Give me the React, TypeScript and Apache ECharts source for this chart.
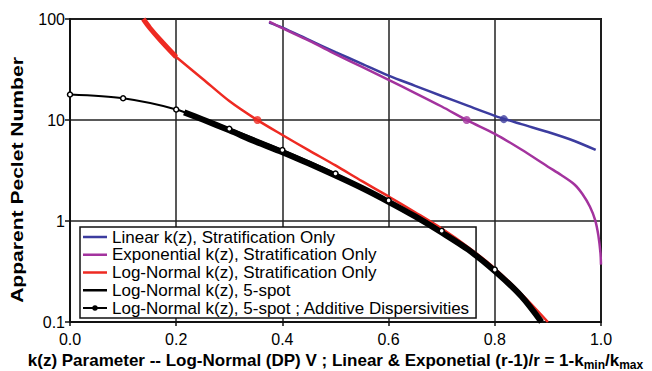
import React, { useEffect, useRef } from "react";
import * as echarts from "echarts";

const seriesNames = [
  "Linear k(z), Stratification Only",
  "Exponential k(z), Stratification Only",
  "Log-Normal k(z), Stratification Only",
  "Log-Normal k(z), 5-spot",
  "Log-Normal k(z), 5-spot ; Additive Dispersivities",
];

const linearStrat: number[][] = [
  [0.375, 92], [0.4, 82], [0.45, 62], [0.5, 47], [0.55, 36], [0.6, 27.5],
  [0.65, 21.8], [0.7, 17.3], [0.75, 13.8], [0.8, 11], [0.85, 9.1],
  [0.9, 7.6], [0.95, 6.2], [0.99, 5.05],
];
const linearMarker: number[][] = [[0.817, 10.2]];

const expStrat: number[][] = [
  [0.375, 94], [0.4, 81], [0.45, 61], [0.5, 45], [0.55, 33.5], [0.6, 24.9],
  [0.65, 18.5], [0.7, 13.6], [0.75, 9.8], [0.8, 7.3], [0.85, 5.1],
  [0.9, 3.45], [0.925, 2.85], [0.95, 2.3], [0.965, 1.85], [0.979, 1.39],
  [0.989, 1.02], [0.995, 0.72], [0.999, 0.48], [1.0, 0.37],
];
const expMarker: number[][] = [[0.747, 10]];

const logNormStratHead: number[][] = [
  [0.138, 100], [0.15, 82], [0.17, 62], [0.2, 42],
];
const logNormStrat: number[][] = [
  [0.2, 42], [0.25, 25.5], [0.3, 15.4], [0.35, 10.2], [0.4, 7.1], [0.45, 5.0],
  [0.5, 3.55], [0.55, 2.48], [0.6, 1.75], [0.65, 1.22], [0.7, 0.84],
  [0.75, 0.55], [0.8, 0.34], [0.85, 0.19], [0.9, 0.1],
];
const logNormMarker: number[][] = [[0.353, 10]];

const logNorm5Spot: number[][] = [
  [0.215, 11.9], [0.25, 10.1], [0.3, 7.9], [0.35, 6.1], [0.4, 4.8], [0.45, 3.7],
  [0.5, 2.82], [0.55, 2.12], [0.6, 1.55], [0.65, 1.11], [0.7, 0.77],
  [0.75, 0.52], [0.8, 0.32], [0.85, 0.18], [0.888, 0.1],
];

const logNormAdditive: number[][] = [
  [0.0, 17.9], [0.1, 16.4], [0.2, 12.7], [0.3, 8.2], [0.4, 5.05],
  [0.5, 2.95], [0.6, 1.6], [0.7, 0.8], [0.8, 0.33], [0.888, 0.1],
];
const additiveMarkerCount = 9;

const yTickLabels: Record<string, string> = { "0.1": "0.1", "1": "1", "10": "10", "100": "100" };

const BLUE = "#3c3c9f";
const PURPLE = "#a3339e";
const RED = "#ee2a22";
const BLACK = "#000000";

const ICON_LINE = "path://M0,0L24,0L0,0ZM0,14L24,14L0,14ZM0,5.75L24,5.75L24,8.25L0,8.25Z";
const ICON_DOTLINE =
  "path://M0,0L24,0L0,0ZM0,14L24,14L0,14ZM0,6L24,6L24,8L0,8ZM9.3,7A2.7,2.7,0,1,1,14.7,7A2.7,2.7,0,1,1,9.3,7Z";

export default function App() {
  const ref = useRef<HTMLDivElement>(null);
  useEffect(() => {
    if (!ref.current) return;
    const chart = echarts.init(ref.current, undefined, { renderer: "svg" });
    const font = "'Liberation Sans', Arial, sans-serif";
    chart.setOption({
      animation: false,
      backgroundColor: "#ffffff",
      textStyle: { fontFamily: font, color: "#000" },
      grid: {
        left: 70, right: 51, top: 19, bottom: 49,
        outerBoundsMode: "none",
        containLabel: false,
        show: true, borderColor: "#111", borderWidth: 2, backgroundColor: "transparent",
      },
      graphic: [
        {
          type: "text",
          x: 17,
          y: 180,
          rotation: Math.PI / 2,
          scaleX: 1.24,
          style: {
            text: "Apparent Peclet Number",
            fontFamily: font,
            fontSize: 17,
            fontWeight: "bold",
            fill: "#000",
            align: "center",
            verticalAlign: "middle",
          },
        },
      ],
      legend: {
        show: true,
        orient: "vertical",
        left: 80,
        top: 227,
        z: 1,
        backgroundColor: "#ffffff",
        borderColor: "#111",
        borderWidth: 1.5,
        borderRadius: 0,
        padding: [1.5, 6, 1.5, 3],
        itemGap: 0.75,
        itemWidth: 24,
        itemHeight: 14,
        textStyle: { fontFamily: font, fontSize: 17, lineHeight: 17, color: "#000" },
        data: [
          { name: seriesNames[0], icon: ICON_LINE, itemStyle: { color: BLUE, borderWidth: 0 } },
          { name: seriesNames[1], icon: ICON_LINE, itemStyle: { color: PURPLE, borderWidth: 0 } },
          { name: seriesNames[2], icon: ICON_LINE, itemStyle: { color: RED, borderWidth: 0 } },
          { name: seriesNames[3], icon: ICON_LINE, itemStyle: { color: BLACK, borderWidth: 0 } },
          { name: seriesNames[4], icon: ICON_DOTLINE, itemStyle: { color: BLACK, borderWidth: 0 } },
        ],
      },
      xAxis: {
        type: "value",
        min: 0,
        max: 1,
        interval: 0.2,
        name: "k(z) Parameter -- Log-Normal (DP) V ; Linear & Exponetial (r-1)/r = 1-k{sub|min}/k{sub|max}",
        nameLocation: "middle",
        nameGap: 27,
        nameTextStyle: {
          fontFamily: font, fontSize: 17, fontWeight: "bold", color: "#000",
          rich: {
            sub: { fontFamily: font, fontSize: 12, fontWeight: "bold", color: "#000", padding: [10, 0, 0, 0] },
          },
        },
        axisLine: { show: true, lineStyle: { color: "#111", width: 2 } },
        axisTick: { show: true, inside: false, length: 4, lineStyle: { color: "#111", width: 1.5 } },
        axisLabel: {
          fontFamily: font, fontSize: 16, color: "#000", margin: 9,
          formatter: (v: number) => v.toFixed(1),
        },
        splitLine: { show: true, lineStyle: { color: "#222", width: 1.5 } },
      },
      yAxis: {
        type: "log",
        logBase: 10,
        min: 0.1,
        max: 100,
        axisLine: { show: true, lineStyle: { color: "#111", width: 2 } },
        axisTick: { show: true, inside: false, length: 5, lineStyle: { color: "#111", width: 1.5 } },
        minorTick: { show: false },
        axisLabel: {
          fontFamily: font, fontSize: 16, color: "#000", margin: 5,
          formatter: (v: number) => yTickLabels[String(+v.toPrecision(3))] ?? String(v),
        },
        splitLine: { show: true, lineStyle: { color: "#222", width: 1.5 } },
      },
      series: [
        {
          name: seriesNames[0], type: "line", data: linearStrat, smooth: 0.3, symbol: "none",
          lineStyle: { color: BLUE, width: 2.5 }, itemStyle: { color: BLUE }, z: 3,
        },
        {
          name: seriesNames[1], type: "line", data: expStrat, smooth: 0.3, symbol: "none",
          lineStyle: { color: PURPLE, width: 2.5 }, itemStyle: { color: PURPLE }, z: 3,
        },
        {
          name: seriesNames[2], type: "line", data: logNormStrat, smooth: 0.3, symbol: "none",
          lineStyle: { color: RED, width: 2.5 }, itemStyle: { color: RED }, z: 3,
        },
        {
          name: "lnHead", type: "line", data: logNormStratHead, smooth: 0.3, symbol: "none",
          lineStyle: { color: RED, width: 5 }, itemStyle: { color: RED }, z: 3,
        },
        {
          name: seriesNames[3], type: "line", data: logNorm5Spot, smooth: 0.3, symbol: "none",
          lineStyle: { color: BLACK, width: 6 }, itemStyle: { color: BLACK }, z: 4,
        },
        {
          name: seriesNames[4], type: "line",
          data: logNormAdditive.map((p, i) =>
            i < additiveMarkerCount ? { value: p } : { value: p, symbol: "none" }
          ),
          smooth: 0.3, symbol: "circle", symbolSize: 5, showSymbol: true,
          lineStyle: { color: BLACK, width: 2 },
          itemStyle: { color: "#ffffff", borderColor: BLACK, borderWidth: 1.5 }, z: 5,
        },
        {
          name: "mBlue", type: "scatter", data: linearMarker, symbolSize: 8,
          itemStyle: { color: BLUE }, z: 6,
        },
        {
          name: "mPurple", type: "scatter", data: expMarker, symbolSize: 8,
          itemStyle: { color: PURPLE }, z: 6,
        },
        {
          name: "mRed", type: "scatter", data: logNormMarker, symbolSize: 8,
          itemStyle: { color: RED }, z: 6,
        },
      ],
    });
    return () => chart.dispose();
  }, []);
  return <div ref={ref} style={{ width: 652, height: 371, position: "absolute", left: 0, top: 0 }} />;
}
